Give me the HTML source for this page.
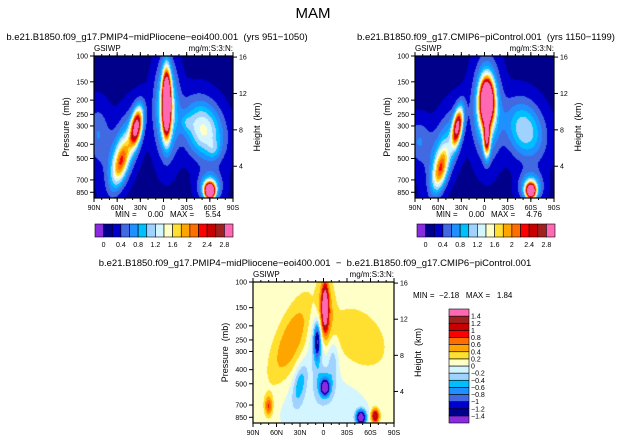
<!DOCTYPE html>
<html><head><meta charset="utf-8">
<style>
body{margin:0;background:#fff;width:627px;height:442px;overflow:hidden;position:relative;font-family:"Liberation Sans",sans-serif}
canvas{position:absolute}
svg{position:absolute;left:0;top:0}
.pre{white-space:pre}
</style></head>
<body>
<canvas id="c1"></canvas>
<canvas id="c2"></canvas>
<canvas id="c3"></canvas>
<svg id="ov" width="627" height="442"></svg>
<script>
const palette=['#8a2be2','#00008b','#0000cd','#4169e1','#1e90ff','#00bfff','#a0d2ff','#d2f5ff','#ffffc8','#ffe030','#ffa500','#ff6e00','#ff0000','#c80000','#a02020','#ff69b4'];
const levelsAbs=[0,0.2,0.4,0.6,0.8,1,1.2,1.4,1.6,1.8,2,2.2,2.4,2.6,2.8];
const levelsDiff=[-1.4,-1.2,-1,-0.8,-0.6,-0.4,-0.2,0,0.2,0.4,0.6,0.8,1,1.2,1.4];
const latTicks=['90N','60N','30N','0','30S','60S','90S'];
const presTicks=[100,150,200,250,300,400,500,700,850];
const heightTicks=[4,8,12,16];
const absBarLabels=['0','0.4','0.8','1.2','1.6','2','2.4','2.8'];
const diffBarLabels=['1.4','1.2','1','0.8','0.6','0.4','0.2','0','\u22120.2','\u22120.4','\u22120.6','\u22120.8','\u22121','\u22121.2','\u22121.4'];
const p1Lat=[4,4,-35,-55,-52,52,30,65,60,60,-85];
const p1Lev=[0.33,0.37,0.5,0.75,0.65,0.52,0.47,0.66,0.95,0.92,0.55];
const p1Amp=[4.5,1.3,2.7,1.5,0.7,1.3,0.3,0.3,4.5,1.0,0.45];
const p1SLat=[5,14,7,10,18,24,8,8,6,14,15];
const p1SLev=[0.2,0.3,0.13,0.16,0.26,0.2,0.06,0.06,0.05,0.1,0.2];
const p1Shear=[0,0,-25,-40,-45,25,0,0,0,0,0];
const p1Bg=0.15, p1Min='0.00', p1Max='5.54';
const p2Lat=[3,3,3,-35,-57,-52,52,60,60,-85];
const p2Lev=[0.32,0.58,0.37,0.5,0.8,0.65,0.52,0.95,0.92,0.6];
const p2Amp=[4.6,2.2,1.3,2.6,1.6,0.7,1.05,3.6,1.0,0.45];
const p2SLat=[8,4,16,6,9,18,24,6,14,15];
const p2SLev=[0.14,0.12,0.3,0.13,0.15,0.26,0.2,0.05,0.1,0.15];
const p2Shear=[0,0,0,-25,-35,-45,25,0,0,0];
const p2Bg=0.15, p2Min='0.00', p2Max='4.76';
const p3Lat=[-42,-70,2,2,45,-8,-8,-30,2,2,0,48,66,12];
const p3Lev=[0.42,0.88,0.18,0.22,0.4,0.42,0.45,0.72,0.75,0.72,0.92,0.96,0.95,0.55];
const p3Amp=[0.5,0.75,1.8,0.6,0.3,-1.2,-0.45,-0.55,-1.7,-0.5,-0.25,-1.9,1.3,-0.4];
const p3SLat=[18,5,4,10,30,4,10,8,5,11,60,6,5,7];
const p3SLev=[0.28,0.07,0.15,0.22,0.2,0.12,0.25,0.15,0.05,0.1,0.25,0.05,0.05,0.15];
const p3Shear=[-60,0,0,0,50,0,0,-30,0,0,0,0,0,0];
const p3Bg=0.1, p3Min='\u22122.18', p3Max='1.84';

function field(lat,lev,L,V,A,SL,SV,SH,bg){
  let f=bg;
  for(let i=0;i<L.length;i++){
    const c=L[i]+SH[i]*(lev-V[i]);
    const dx=(lat-c)/SL[i], dy=(lev-V[i])/SV[i];
    f+=A[i]*Math.exp(-dx*dx-dy*dy);
  }
  return f;
}
function colorIdx(v,lv){let k=0;while(k<lv.length&&v>=lv[k])k++;return k;}
function hex(h){return [parseInt(h.substr(1,2),16),parseInt(h.substr(3,2),16),parseInt(h.substr(5,2),16)];}
const rgb=palette.map(hex);
function drawField(id,x0,y0,w,h,L,V,A,SL,SV,SH,bg,lv){
  const c=document.getElementById(id);c.width=w;c.height=h;c.style.left=x0+'px';c.style.top=y0+'px';
  const ctx=c.getContext('2d');const im=ctx.createImageData(w,h);
  for(let j=0;j<h;j++)for(let i=0;i<w;i++){
    const lat=-90+180*(i+0.5)/w, lev=(j+0.5)/h;
    const col=rgb[colorIdx(field(lat,lev,L,V,A,SL,SV,SH,bg),lv)];
    const o=(j*w+i)*4;im.data[o]=col[0];im.data[o+1]=col[1];im.data[o+2]=col[2];im.data[o+3]=255;
  }
  ctx.putImageData(im,0,0);
}
const NS='http://www.w3.org/2000/svg';const ov=document.getElementById('ov');
function el(tag,attrs,text){const e=document.createElementNS(NS,tag);for(const k in attrs)e.setAttribute(k,attrs[k]);if(text!==undefined)e.textContent=text;ov.appendChild(e);return e;}
function presY(p,y0,h){return y0+h*Math.log(p/100)/Math.log(9.3);}
function hgtY(z,y0,h){const p=1000*Math.exp(-z/7);return presY(p,y0,h);}
function axes(x0,y0,w,h,pfx){
  let e=el('rect',{x:x0,y:y0,width:w,height:h,fill:'none',stroke:'#000','stroke-width':1.2});
  
  latTicks.forEach((t,i)=>{const x=x0+w*i/6;
    el('line',{x1:x,y1:y0+h,x2:x,y2:y0+h+4,stroke:'#000'});
    el('line',{x1:x,y1:y0,x2:x,y2:y0-4,stroke:'#000'});
    e=el('text',{x:x,y:y0+h+12,'font-size':7,'text-anchor':'middle'},t);
    
  });
  for(let i=0;i<=18;i++){const x=x0+w*i/18;el('line',{x1:x,y1:y0+h,x2:x,y2:y0+h+2,stroke:'#000'});el('line',{x1:x,y1:y0,x2:x,y2:y0-2,stroke:'#000'});}
  presTicks.forEach(p=>{const y=presY(p,y0,h);
    el('line',{x1:x0-4,y1:y,x2:x0,y2:y,stroke:'#000'});
    e=el('text',{x:x0-6,y:y+2.5,'font-size':7,'text-anchor':'end'},String(p));
    
  });
  heightTicks.forEach(z=>{const y=hgtY(z,y0,h);
    el('line',{x1:x0+w,y1:y,x2:x0+w+4,y2:y,stroke:'#000'});
    e=el('text',{x:x0+w+6,y:y+2.5,'font-size':7},String(z));
    
  });
  e=el('text',{x:x0,y:y0-5,'font-size':8},'GSIWP');
  e=el('text',{x:x0+w,y:y0-5,'font-size':8,'text-anchor':'end'},'mg/m:S:3:N:');
  e=el('text',{x:0,y:0,'font-size':9,'text-anchor':'middle',class:'pre',transform:`translate(${x0-25},${y0+h/2}) rotate(-90)`},'Pressure  (mb)');
  
  e=el('text',{x:0,y:0,'font-size':9,'text-anchor':'middle',class:'pre',transform:`translate(${x0+w+27},${y0+h/2}) rotate(-90)`},'Height  (km)');
  
}
function hbar(x0,y0,w,h,pfx){
  const bw=w/16;
  palette.forEach((c,i)=>{const e=el('rect',{x:x0+i*bw,y:y0,width:bw,height:h,fill:c,stroke:'#000','stroke-width':0.6});
    });
  absBarLabels.forEach((t,i)=>{const e=el('text',{x:x0+bw*(1+2*i),y:y0+h+10,'font-size':7,'text-anchor':'middle'},t);
    });
}
function vbar(x0,y0,w,h){
  const bh=h/16;
  palette.forEach((c,i)=>{const e=el('rect',{x:x0,y:y0+h-(i+1)*bh,width:w,height:bh,fill:c,stroke:'#000','stroke-width':0.6});
    });
  diffBarLabels.forEach((t,i)=>{const e=el('text',{x:x0+w+2,y:y0+bh*(i+1)+2.5,'font-size':7},t);
    });
}
drawField('c1',94,56,139,142,p1Lat,p1Lev,p1Amp,p1SLat,p1SLev,p1Shear,p1Bg,levelsAbs);
drawField('c2',415,56,139,142,p2Lat,p2Lev,p2Amp,p2SLat,p2SLev,p2Shear,p2Bg,levelsAbs);
drawField('c3',253,282,141,141,p3Lat,p3Lev,p3Amp,p3SLat,p3SLev,p3Shear,p3Bg,levelsDiff);
axes(94,56,139,142,'p1');axes(415,56,139,142,'p2');axes(253,282,141,141,'p3');
hbar(95,224,138,13,'p1');hbar(417,224,138,13,'p2');vbar(449,309,20,114);
let t;
t=el('text',{x:313,y:18,'font-size':15,'text-anchor':'middle'},'MAM');
t=el('text',{x:157,y:40,'font-size':9.5,'text-anchor':'middle',class:'pre'},'b.e21.B1850.f09_g17.PMIP4\u2212midPliocene\u2212eoi400.001  (yrs 951\u22121050)');
t=el('text',{x:486,y:40,'font-size':9.5,'text-anchor':'middle',class:'pre'},'b.e21.B1850.f09_g17.CMIP6\u2212piControl.001  (yrs 1150\u22121199)');
t=el('text',{x:315,y:266,'font-size':9.5,'text-anchor':'middle',class:'pre'},'b.e21.B1850.f09_g17.PMIP4\u2212midPliocene\u2212eoi400.001  \u2212  b.e21.B1850.f09_g17.CMIP6\u2212piControl.001');
t=el('text',{x:168,y:217,'font-size':8,'text-anchor':'middle',class:'pre'},'MIN =     '+p1Min+'   MAX =     '+p1Max);
t=el('text',{x:489,y:217,'font-size':8,'text-anchor':'middle',class:'pre'},'MIN =     '+p2Min+'   MAX =     '+p2Max);
t=el('text',{x:413,y:298,'font-size':8,class:'pre'},'MIN =  '+p3Min+'   MAX =   '+p3Max);
</script>
</body></html>
